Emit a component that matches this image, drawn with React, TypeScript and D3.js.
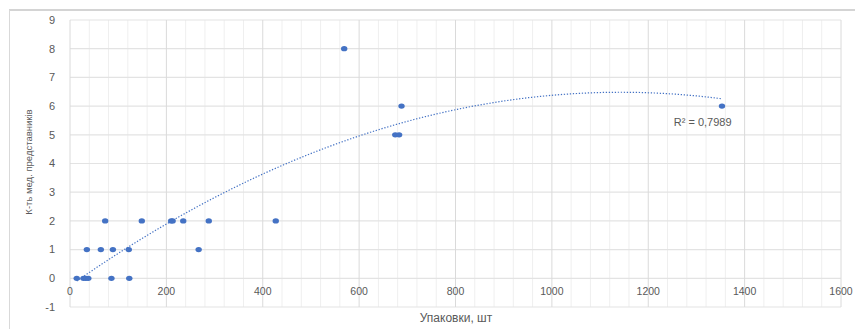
import React from 'react'
import * as d3 from 'd3'

// packages vs number of medical representatives
const packs = [14, 28, 33, 38, 35, 64, 73, 86, 89, 122, 123, 149, 210, 213, 235, 267, 288, 427, 569, 675, 683, 688, 1353]
const reps = [0, 0, 0, 0, 1, 1, 2, 0, 1, 1, 0, 2, 2, 2, 2, 1, 2, 2, 8, 5, 5, 6, 6]
const xTicks = [0, 200, 400, 600, 800, 1000, 1200, 1400, 1600]
const yTicks = [-1, 0, 1, 2, 3, 4, 5, 6, 7, 8, 9]
const r2Label = 'R² = 0,7989'

const W = 855
const H = 329
const margin = { left: 70, right: 14, top: 20, bottom: 22 }

// quadratic least squares, like Excel's polynomial trendline
function fitQuadratic(xs: number[], ys: number[]) {
  const S = (f: (x: number, y: number) => number) => d3.sum(xs, (x, i) => f(x, ys[i]))
  const n = xs.length
  const sx = S((x) => x), sx2 = S((x) => x * x), sx3 = S((x) => x ** 3), sx4 = S((x) => x ** 4)
  const sy = S((x, y) => y), sxy = S((x, y) => x * y), sx2y = S((x, y) => x * x * y)
  const A = [[n, sx, sx2, sy], [sx, sx2, sx3, sxy], [sx2, sx3, sx4, sx2y]]
  for (let i = 0; i < 3; i++) {
    for (let j = i + 1; j < 3; j++) {
      const f = A[j][i] / A[i][i]
      for (let k = i; k < 4; k++) A[j][k] -= f * A[i][k]
    }
  }
  const c = [0, 0, 0]
  for (let i = 2; i >= 0; i--) {
    let s = A[i][3]
    for (let k = i + 1; k < 3; k++) s -= A[i][k] * c[k]
    c[i] = s / A[i][i]
  }
  return (x: number) => c[0] + c[1] * x + c[2] * x * x
}

export default function App() {
  const x = d3.scaleLinear().domain([0, 1600]).range([margin.left, W - margin.right])
  const y = d3.scaleLinear().domain([-1, 9]).range([H - margin.bottom, margin.top])
  const trend = fitQuadratic(packs, reps)
  const [x0, x1] = d3.extent(packs) as [number, number]
  const trendPts = d3.range(x0, x1 + 0.1, (x1 - x0) / 200).map((v) => [v, trend(v)] as [number, number])
  const line = d3.line<[number, number]>().x((d) => x(d[0])).y((d) => y(d[1]))
  const minor = d3.range(0, 1601, 40).filter((v) => v % 200 !== 0)
  const font = '"Liberation Sans", Arial, sans-serif'

  return (
    <svg width={W} height={H} style={{ position: 'absolute', left: 0, top: 0, background: '#fff' }}>
      <rect x={0} y={0} width={W} height={H} fill="#fff" />
      {/* chart frame */}
      <line x1={9} x2={W} y1={10} y2={10} stroke="#d4d4d4" strokeWidth={2} />
      <line x1={9.5} x2={9.5} y1={10} y2={H} stroke="#d9d9d9" strokeWidth={1} />

      {minor.map((v) => (
        <line key={'m' + v} x1={x(v)} x2={x(v)} y1={y(9)} y2={y(-1)} stroke="#efefef" />
      ))}
      {yTicks.map((v) => (
        <line key={'h' + v} x1={x(0)} x2={x(1600)} y1={y(v)} y2={y(v)} stroke="#e3e3e3" strokeWidth={1.2} />
      ))}
      {xTicks.map((v) => (
        <line key={'v' + v} x1={x(v)} x2={x(v)} y1={y(9)} y2={y(-1)} stroke="#dadada" />
      ))}

      {yTicks.map((v) => (
        <text key={'yl' + v} x={x(0) - 15} y={y(v)} dy="0.35em" textAnchor="end" fontFamily={font} fontSize={11} fill="#595959">
          {v}
        </text>
      ))}
      {xTicks.map((v) => (
        <text key={'xl' + v} x={x(v)} y={y(0) + 17} textAnchor="middle" fontFamily={font} fontSize={10.5} fill="#595959">
          {v}
        </text>
      ))}

      <path d={line(trendPts) || ''} fill="none" stroke="#4472c4" strokeWidth={1.2} strokeDasharray="1.3,1.7" />

      {packs.map((p, i) => (
        <ellipse key={'p' + i} cx={x(p)} cy={y(reps[i])} rx={3.2} ry={2.6} fill="#4472c4" />
      ))}

      <text x={x(1313)} y={y(5.45)} dy="0.35em" textAnchor="middle" fontFamily={font} fontSize={11} fill="#595959">
        {r2Label}
      </text>

      <text x={456} y={322} textAnchor="middle" fontFamily={font} fontSize={12} fill="#595959">
        Упаковки, шт
      </text>
      <text transform="translate(32,162) rotate(-90)" textAnchor="middle" fontFamily={font} fontSize={9.5} fill="#595959">
        К-ть мед. представників
      </text>
    </svg>
  )
}
